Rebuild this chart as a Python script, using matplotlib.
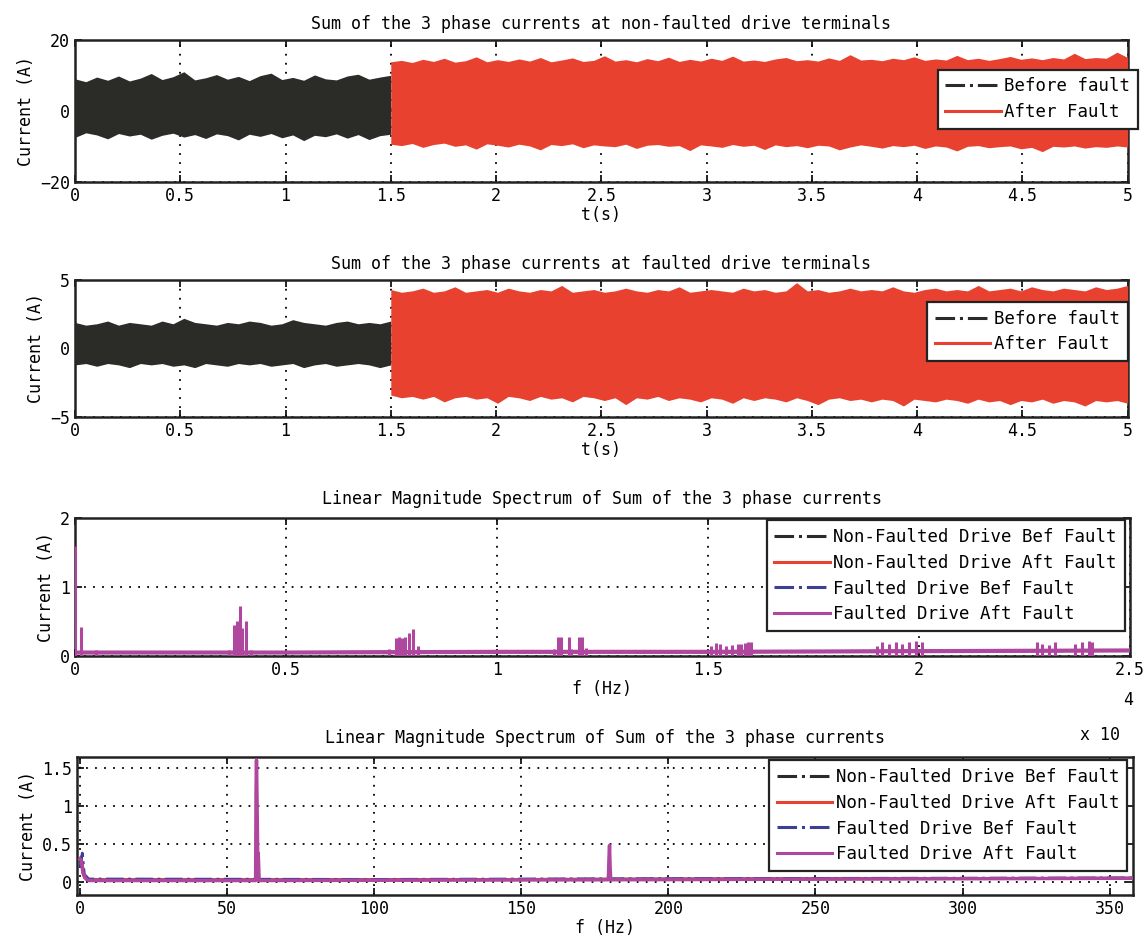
import matplotlib.pyplot as plt
from matplotlib.lines import Line2D
import numpy as np

plt.rcParams['font.family'] = ['DejaVu Sans Mono', 'DejaVu Sans']
plt.rcParams['font.size'] = 12

BLACK = '#2b2b28'
RED = '#e8412f'
BLUE = '#3c3f96'
PURPLE = '#b0479f'

# ---- plot 1 : non-faulted drive, envelope (A)
p1_bef_up = [9.0, 8.2, 9.5, 8.6, 9.8, 8.4, 9.2, 10.5, 8.8, 9.6, 11.0, 8.7, 9.3, 10.2, 8.9,
             9.7, 8.5, 9.9, 10.6, 8.8, 9.4, 8.6, 10.1, 9.0, 8.7, 9.8, 10.3, 8.9, 9.5, 10.0]
p1_bef_lo = [-7.5, -6.2, -6.8, -7.9, -6.4, -7.1, -6.6, -8.0, -6.9, -6.3, -7.4, -6.7, -7.8, -6.5, -7.0,
             -8.2, -6.6, -7.2, -6.4, -7.6, -6.8, -8.4, -6.9, -7.3, -6.5, -7.7, -6.7, -8.1, -7.0, -6.6]
p1_aft_up = [13.8, 14.2, 13.6, 14.5, 13.9, 14.8, 13.7, 14.1, 15.2, 13.8, 14.4, 13.9, 14.6, 14.0, 15.0,
             13.8, 14.3, 14.9, 13.9, 14.2, 15.5, 14.0, 14.4, 13.8, 14.7, 14.1, 15.1, 13.9, 14.5, 14.0,
             14.8, 14.2, 15.4, 14.0, 14.3, 13.9, 14.6, 15.0, 14.1, 14.4, 14.0, 14.9, 14.2, 15.8, 14.3,
             14.5, 14.1, 14.8, 14.4, 15.2, 14.2, 14.6, 14.3, 15.6, 14.4, 14.8, 14.2, 14.7, 15.3, 14.5,
             14.9, 14.4, 15.0, 14.6, 16.2, 14.7, 15.0, 14.8, 16.5, 15.0]
p1_aft_lo = [-9.4, -9.8, -9.2, -10.3, -9.5, -9.1, -10.0, -9.6, -10.8, -9.3, -9.7, -10.2, -9.4, -9.9, -11.0,
             -9.5, -9.8, -9.3, -10.4, -9.6, -9.9, -10.1, -9.4, -10.6, -9.7, -9.5, -10.0, -9.8, -11.2, -9.6,
             -9.9, -10.3, -9.5, -10.0, -9.7, -10.9, -9.6, -10.1, -9.8, -10.4, -9.7, -9.9, -11.0, -10.2, -9.6,
             -10.0, -10.5, -9.8, -10.1, -9.7, -10.6, -9.9, -10.2, -11.3, -10.0, -9.8, -10.4, -10.1, -9.9, -10.7,
             -10.3, -11.5, -10.0, -10.2, -9.9, -10.5, -10.1, -10.3, -9.9, -10.2]

# ---- plot 2 : faulted drive (A)
p2_bef_up = [1.9, 1.7, 1.8, 2.0, 1.7, 1.9, 1.8, 1.7, 2.0, 1.8, 2.2, 1.9, 1.8, 1.7, 1.9,
             1.8, 2.0, 1.9, 1.7, 1.8, 2.1, 1.9, 1.8, 1.7, 1.9, 2.0, 1.8, 1.9, 1.8, 2.0]
p2_bef_lo = [-1.2, -1.1, -1.3, -1.1, -1.2, -1.4, -1.1, -1.2, -1.1, -1.3, -1.2, -1.4, -1.1, -1.2, -1.3,
             -1.1, -1.2, -1.1, -1.3, -1.2, -1.1, -1.4, -1.2, -1.1, -1.3, -1.2, -1.1, -1.2, -1.4, -1.2]
p2_aft_up = [4.3, 4.1, 4.2, 4.4, 4.1, 4.2, 4.5, 4.1, 4.2, 4.3, 4.1, 4.4, 4.2, 4.1, 4.3,
             4.2, 4.6, 4.1, 4.2, 4.3, 4.1, 4.2, 4.4, 4.2, 4.1, 4.3, 4.2, 4.5, 4.1, 4.2,
             4.3, 4.2, 4.1, 4.4, 4.2, 4.3, 4.1, 4.2, 4.8, 4.2, 4.3, 4.1, 4.2, 4.4, 4.2,
             4.3, 4.2, 4.5, 4.2, 4.1, 4.3, 4.4, 4.2, 4.3, 4.2, 4.6, 4.2, 4.3, 4.4, 4.2,
             4.5, 4.3, 4.2, 4.4, 4.3, 4.2, 4.5, 4.3, 4.4, 4.6]
p2_aft_lo = [-3.4, -3.6, -3.5, -3.7, -3.5, -3.9, -3.6, -3.5, -3.7, -3.6, -4.0, -3.5, -3.6, -3.8, -3.5,
             -3.7, -3.6, -3.9, -3.5, -3.6, -3.8, -3.6, -4.1, -3.6, -3.7, -3.5, -3.8, -3.6, -3.7, -3.9,
             -3.6, -3.7, -4.0, -3.6, -3.8, -3.6, -3.7, -3.9, -3.6, -3.8, -4.1, -3.7, -3.6, -3.8, -3.7,
             -3.9, -3.7, -3.8, -4.2, -3.7, -3.8, -3.9, -3.7, -3.8, -4.0, -3.7, -3.9, -3.8, -4.1, -3.8,
             -3.9, -3.7, -4.0, -3.8, -3.9, -4.2, -3.8, -3.9, -3.8, -4.0]

# ---- plot 3 : spectrum 0-25 kHz (faulted drive after fault shows on top)
p3_base_f = [0, 5000, 10000, 15000, 20000, 25000]
p3_base_a = [0.05, 0.05, 0.06, 0.06, 0.07, 0.08]
p3_peak_f = [0, 135, 490,
             3650, 3770, 3840, 3900, 3950, 4050, 4170,
             7450, 7600, 7690, 7750, 7830, 7920, 8020, 8120,
             11340, 11440, 11510, 11700, 11760, 11940, 12020, 12100,
             15080, 15180, 15280, 15430, 15570, 15700, 15790, 15880, 15960, 16030,
             19010, 19130, 19290, 19450, 19600, 19760, 19920, 20080,
             22800, 22920, 23070, 23230, 23700, 23860, 24020, 24100]
p3_peak_a = [1.6, 0.42, 0.08,
             0.08, 0.45, 0.50, 0.72, 0.40, 0.50, 0.08,
             0.10, 0.26, 0.27, 0.26, 0.28, 0.33, 0.39, 0.15,
             0.10, 0.28, 0.27, 0.27, 0.10, 0.28, 0.27, 0.12,
             0.15, 0.19, 0.17, 0.15, 0.16, 0.17, 0.18, 0.19, 0.20, 0.20,
             0.15, 0.20, 0.18, 0.20, 0.17, 0.20, 0.22, 0.20,
             0.20, 0.18, 0.16, 0.20, 0.17, 0.20, 0.22, 0.20]

# ---- plot 4 : spectrum 0-360 Hz
p4_black_f = [0, 0.5, 1.5, 3, 100, 200, 360]
p4_black_a = [0.25, 0.30, 0.06, 0.03, 0.03, 0.04, 0.05]
p4_red_f = [0, 0.3, 1.2, 3, 100, 200, 360]
p4_red_a = [0.30, 0.33, 0.08, 0.03, 0.03, 0.04, 0.05]
p4_blue_f = [0, 0.8, 1.5, 3, 8, 100, 200, 360]
p4_blue_a = [0.20, 0.38, 0.10, 0.04, 0.04, 0.035, 0.045, 0.055]
p4_purple_f = [0, 0.5, 1, 2, 3, 59.7, 59.85, 60, 60.15, 60.4, 60.6, 60.9, 179.6, 179.8, 180, 180.2, 180.4, 360]
p4_purple_a = [0.30, 0.28, 0.12, 0.04, 0.02, 0.02, 1.2, 1.6, 1.2, 0.38, 0.38, 0.02, 0.03, 0.30, 0.48, 0.20, 0.03, 0.05]


def band(ax, t0, t1, up, lo, color):
    t = np.linspace(t0, t1, len(up))
    ax.fill_between(t, lo, up, color=color, linewidth=0, zorder=3)


def style(ax):
    ax.tick_params(direction='in', length=5, width=1.2, top=True, right=True, labelsize=12)
    ax.grid(True, linestyle=(0, (1, 4)), color='k', linewidth=1.3)
    ax.set_axisbelow(True)
    for s in ax.spines.values():
        s.set_linewidth(1.8)
        s.set_color('#222222')


def legend(ax, handles, labels, anchor):
    lg = ax.legend(handles, labels, loc='upper right', bbox_to_anchor=anchor, fancybox=False,
                   edgecolor='#222222', framealpha=1, fontsize=12.5, handlelength=3.2,
                   handletextpad=0.2, labelspacing=0.45, borderpad=0.45, borderaxespad=0)
    lg.get_frame().set_linewidth(1.6)


fig = plt.figure(figsize=(11.48, 9.47), dpi=100)
ax1 = fig.add_axes([0.0653, 0.808, 0.917, 0.150])
ax2 = fig.add_axes([0.0653, 0.5597, 0.917, 0.1447])
ax3 = fig.add_axes([0.0653, 0.3073, 0.919, 0.1457])
ax4 = fig.add_axes([0.0671, 0.0549, 0.920, 0.1457])

two_handles = [Line2D([], [], color=BLACK, linestyle='-.', linewidth=2.2),
               Line2D([], [], color=RED, linewidth=2.2)]
four_handles = [Line2D([], [], color=BLACK, linestyle='-.', linewidth=2.2),
                Line2D([], [], color=RED, linewidth=2.2),
                Line2D([], [], color=BLUE, linestyle='-.', linewidth=2.2),
                Line2D([], [], color=PURPLE, linewidth=2.2)]
two_labels = ['Before fault', 'After Fault']
four_labels = ['Non-Faulted Drive Bef Fault', 'Non-Faulted Drive Aft Fault',
               'Faulted Drive Bef Fault', 'Faulted Drive Aft Fault']

# plot 1
band(ax1, 0, 1.5, p1_bef_up, p1_bef_lo, BLACK)
band(ax1, 1.5, 5, p1_aft_up, p1_aft_lo, RED)
ax1.set_xlim(0, 5)
ax1.set_ylim(-20, 20)
ax1.set_yticks([-20, 0, 20])
ax1.set_xticks(np.arange(0, 5.01, 0.5))
ax1.set_xticklabels(['0', '0.5', '1', '1.5', '2', '2.5', '3', '3.5', '4', '4.5', '5'])
ax1.set_title('Sum of the 3 phase currents at non-faulted drive terminals', fontsize=12, pad=8)
ax1.set_xlabel('t(s)', labelpad=1)
ax1.set_ylabel('Current (A)')
style(ax1)
legend(ax1, two_handles, two_labels, (1.01, 0.79))

# plot 2
band(ax2, 0, 1.5, p2_bef_up, p2_bef_lo, BLACK)
band(ax2, 1.5, 5, p2_aft_up, p2_aft_lo, RED)
ax2.set_xlim(0, 5)
ax2.set_ylim(-5, 5)
ax2.set_yticks([-5, 0, 5])
ax2.set_xticks(np.arange(0, 5.01, 0.5))
ax2.set_xticklabels(['0', '0.5', '1', '1.5', '2', '2.5', '3', '3.5', '4', '4.5', '5'])
ax2.set_title('Sum of the 3 phase currents at faulted drive terminals', fontsize=12, pad=8)
ax2.set_xlabel('t(s)', labelpad=1)
ax2.set_ylabel('Current (A)')
style(ax2)
legend(ax2, two_handles, two_labels, (1.0, 0.84))

# plot 3
ax3.plot(p3_base_f, p3_base_a, color=BLACK, linestyle='-.', linewidth=2, zorder=3)
ax3.plot(p3_base_f, p3_base_a, color=RED, linewidth=2, zorder=3)
ax3.plot(p3_base_f, p3_base_a, color=BLUE, linestyle='-.', linewidth=2, zorder=3)
ax3.plot(p3_base_f, p3_base_a, color=PURPLE, linewidth=3, zorder=4)
ax3.vlines(p3_peak_f, 0, p3_peak_a, color=PURPLE, linewidth=2.2, zorder=4)
ax3.set_xlim(0, 25000)
ax3.set_ylim(0, 2)
ax3.set_yticks([0, 1, 2])
ax3.set_xticks(np.arange(0, 25001, 5000))
ax3.set_xticklabels(['0', '0.5', '1', '1.5', '2', '2.5'])
ax3.set_title('Linear Magnitude Spectrum of Sum of the 3 phase currents', fontsize=12, pad=10)
ax3.set_xlabel('f (Hz)', labelpad=1)
ax3.set_ylabel('Current (A)')
style(ax3)
legend(ax3, four_handles, four_labels, (0.995, 0.985))
ax3.text(0.998, -0.32, '4', transform=ax3.transAxes, ha='center', va='center', fontsize=12)
ax3.text(0.972, -0.57, 'x 10', transform=ax3.transAxes, ha='center', va='center', fontsize=12)

# plot 4
ax4.plot(p4_black_f, p4_black_a, color=BLACK, linestyle='-.', linewidth=2, zorder=3)
ax4.plot(p4_red_f, p4_red_a, color=RED, linewidth=2, zorder=3)
ax4.plot(p4_blue_f, p4_blue_a, color=BLUE, linestyle='-.', linewidth=2, zorder=3)
ax4.plot(p4_purple_f, p4_purple_a, color=PURPLE, linewidth=2.5, zorder=4)
ax4.set_xlim(-1, 358)
ax4.set_ylim(-0.17, 1.64)
ax4.set_yticks([0, 0.5, 1, 1.5])
ax4.set_yticklabels(['0', '0.5', '1', '1.5'])
ax4.set_xticks(np.arange(0, 351, 50))
ax4.set_title('Linear Magnitude Spectrum of Sum of the 3 phase currents', fontsize=12, pad=10)
ax4.set_xlabel('f (Hz)', labelpad=1)
ax4.set_ylabel('Current (A)')
style(ax4)
legend(ax4, four_handles, four_labels, (0.994, 0.978))

fig.savefig('out.png', dpi=100)
